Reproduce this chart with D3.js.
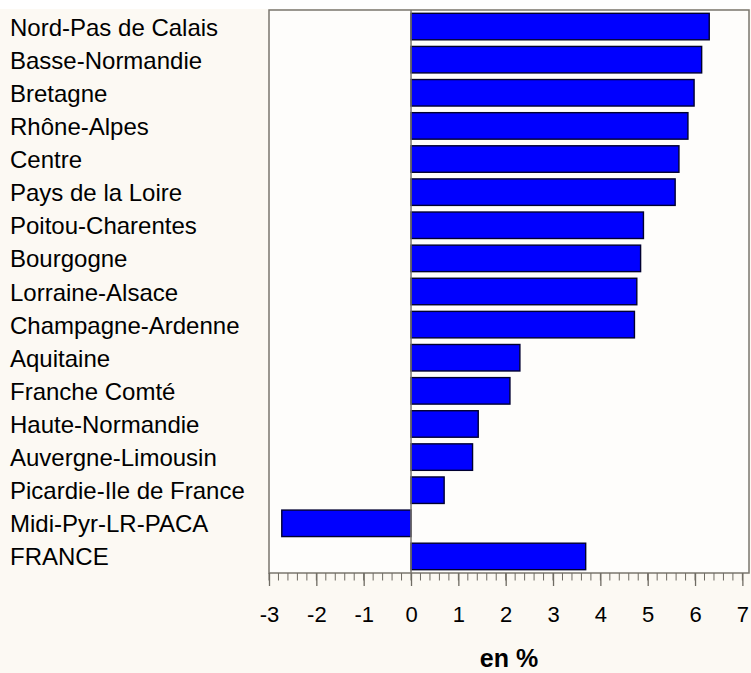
<!DOCTYPE html>
<html>
<head>
<meta charset="utf-8">
<script src="https://cdn.jsdelivr.net/npm/d3@7"></script>
<style>
  html, body { margin: 0; padding: 0; background: #fcf9f3; }
  svg { display: block; }
</style>
</head>
<body>
<svg id="chart" width="751" height="673"></svg>
<script>
const regions = [
  "Nord-Pas de Calais", "Basse-Normandie", "Bretagne", "Rhône-Alpes", "Centre",
  "Pays de la Loire", "Poitou-Charentes", "Bourgogne", "Lorraine-Alsace",
  "Champagne-Ardenne", "Aquitaine", "Franche Comté", "Haute-Normandie",
  "Auvergne-Limousin", "Picardie-Ile de France", "Midi-Pyr-LR-PACA", "FRANCE"
];
const values = [6.30, 6.14, 5.98, 5.85, 5.66, 5.58, 4.91, 4.85, 4.77, 4.72,
                2.30, 2.09, 1.42, 1.30, 0.70, -2.73, 3.69];
const xTicks = [-3, -2, -1, 0, 1, 2, 3, 4, 5, 6, 7];
const xDomain = [-3, 7.14];
const axisTitle = "en %";

const svg = d3.select("#chart");
const W = 751, H = 673;
const plot = { left: 269, right: 749, top: 10, bottom: 573 };
const FONT = "'Liberation Sans', Arial, sans-serif";

svg.append("rect").attr("x", 0).attr("y", 0).attr("width", W).attr("height", 9).attr("fill", "#ffffff");

const x = d3.scaleLinear().domain(xDomain).range([plot.left, plot.right]);
const y = d3.scaleBand().domain(regions).range([plot.top, plot.bottom]).paddingInner(0.2).paddingOuter(0.1);

// plot area
svg.append("rect")
  .attr("x", plot.left).attr("y", plot.top)
  .attr("width", plot.right - plot.left).attr("height", plot.bottom - plot.top)
  .attr("fill", "#fefdfb").attr("stroke", "#7a766e").attr("stroke-width", 1.5);

// bars
svg.append("g").selectAll("rect").data(values).join("rect")
  .attr("x", d => x(Math.min(0, d)))
  .attr("y", (d, i) => y(regions[i]))
  .attr("width", d => Math.abs(x(d) - x(0)))
  .attr("height", y.bandwidth())
  .attr("fill", "#0000ff")
  .attr("stroke", "#000030")
  .attr("stroke-width", 1.4);

// zero line
svg.append("line")
  .attr("x1", x(0)).attr("x2", x(0))
  .attr("y1", plot.top).attr("y2", plot.bottom)
  .attr("stroke", "#7a766e").attr("stroke-width", 1.5);

// category labels
svg.append("g").selectAll("text").data(regions).join("text")
  .attr("x", 10)
  .attr("y", d => y(d) + y.bandwidth() / 2 + 9)
  .attr("font-family", FONT)
  .attr("font-size", 24)
  .attr("fill", "#000")
  .text(d => d);

// x axis: minor ticks
const minor = d3.range(xTicks[0] * 5, xTicks[xTicks.length - 1] * 5 + 1).map(v => v / 5);
const axisG = svg.append("g").attr("transform", `translate(0,${plot.bottom})`);
axisG.append("g").selectAll("line").data(minor).join("line")
  .attr("x1", d => x(d)).attr("x2", d => x(d))
  .attr("y1", 0).attr("y2", 7.5)
  .attr("stroke", "#6f6b63").attr("stroke-width", 1);

const axis = d3.axisBottom(x).tickValues(xTicks).tickSize(13).tickSizeOuter(0).tickPadding(20)
  .tickFormat(d3.format("d"));
const ax = svg.append("g").attr("transform", `translate(0,${plot.bottom})`).call(axis);
ax.select(".domain").remove();
ax.selectAll(".tick line").attr("stroke", "#6f6b63").attr("stroke-width", 1.3);
ax.selectAll(".tick text")
  .attr("font-family", FONT)
  .attr("font-size", 22)
  .attr("fill", "#000")
  .text(d => d < 0 ? "-" + Math.abs(d) : String(d));

// axis title
svg.append("text")
  .attr("x", 509).attr("y", 667)
  .attr("text-anchor", "middle")
  .attr("font-family", FONT)
  .attr("font-size", 25)
  .attr("font-weight", "bold")
  .attr("fill", "#000")
  .text(axisTitle);
</script>
</body>
</html>
